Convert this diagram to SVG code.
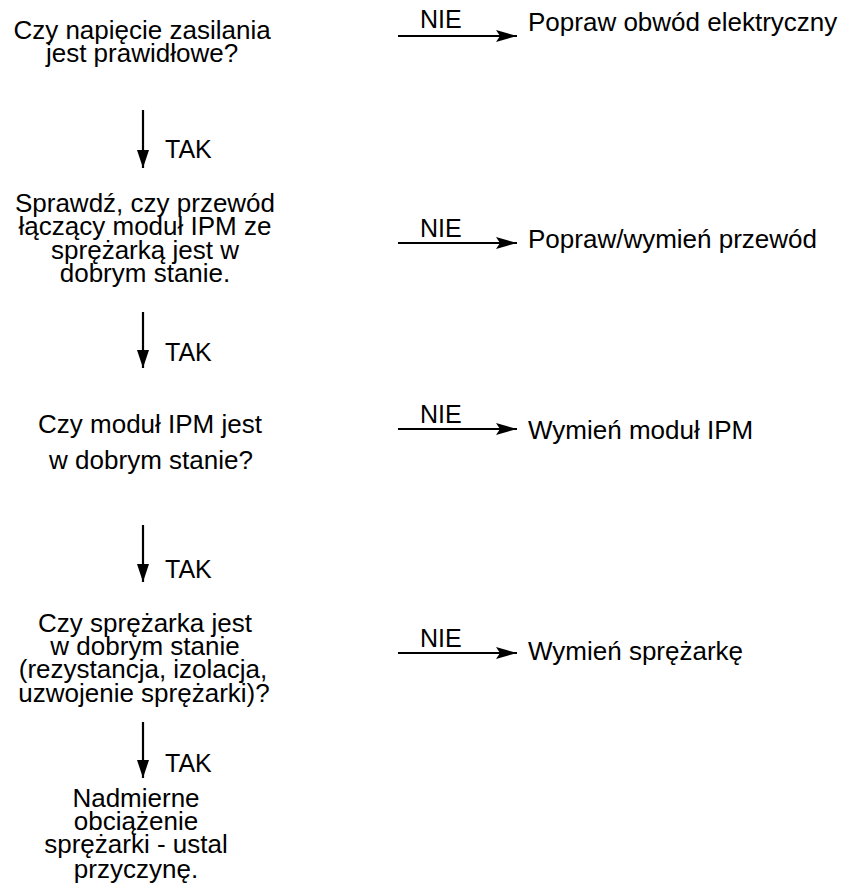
<svg xmlns="http://www.w3.org/2000/svg" width="851" height="892" viewBox="0 0 851 892">
  <defs>
    <style>
      .t { font-family: "Liberation Sans", Arial, sans-serif; font-size: 26px; fill: #000; }
      .c { text-anchor: middle; }
      .lbl { font-family: "Liberation Sans", Arial, sans-serif; font-size: 25px; fill: #000; }
      .ln { stroke: #000; stroke-width: 2.2; fill: none; }
    </style>
    <marker id="ah" markerUnits="userSpaceOnUse" markerWidth="22" markerHeight="14" refX="21" refY="7" orient="auto">
      <path d="M0,1 L21,7 L0,13 L4,7 Z" fill="#000"/>
    </marker>
    <marker id="av" markerUnits="userSpaceOnUse" markerWidth="18" markerHeight="14" refX="18" refY="7" orient="auto">
      <path d="M0,1 L18,7 L0,13 Z" fill="#000"/>
    </marker>
  </defs>
  <rect width="851" height="892" fill="#fff"/>

  <!-- decision steps -->
  <g id="q-voltage" class="t c">
    <text x="142" y="39">Czy napięcie zasilania</text>
    <text x="142" y="62">jest prawidłowe?</text>
  </g>
  <g id="q-cable" class="t c">
    <text x="145" y="212">Sprawdź, czy przewód</text>
    <text x="145" y="235">łączący moduł IPM ze</text>
    <text x="145" y="259">sprężarką jest w</text>
    <text x="145" y="282">dobrym stanie.</text>
  </g>
  <g id="q-ipm" class="t c">
    <text x="150" y="433">Czy moduł IPM jest</text>
    <text x="151" y="469">w dobrym stanie?</text>
  </g>
  <g id="q-compressor" class="t c">
    <text x="145" y="632">Czy sprężarka jest</text>
    <text x="145" y="655">w dobrym stanie</text>
    <text x="143" y="678">(rezystancja, izolacja,</text>
    <text x="144" y="702">uzwojenie sprężarki)?</text>
  </g>
  <g id="r-overload" class="t c">
    <text x="136" y="807">Nadmierne</text>
    <text x="136" y="830">obciążenie</text>
    <text x="136" y="853">sprężarki - ustal</text>
    <text x="136" y="878">przyczynę.</text>
  </g>

  <!-- remedies -->
  <g id="r-circuit" class="t"><text x="528" y="31">Popraw obwód elektryczny</text></g>
  <g id="r-cable" class="t"><text x="528" y="248">Popraw/wymień przewód</text></g>
  <g id="r-ipm" class="t"><text x="528" y="439">Wymień moduł IPM</text></g>
  <g id="r-compressor" class="t"><text x="528" y="660">Wymień sprężarkę</text></g>

  <!-- connectors -->
  <g id="connectors">
    <line class="ln" x1="143" y1="110" x2="143" y2="168" marker-end="url(#av)"/>
    <line class="ln" x1="143" y1="312" x2="143" y2="368" marker-end="url(#av)"/>
    <line class="ln" x1="143" y1="525" x2="143" y2="582" marker-end="url(#av)"/>
    <line class="ln" x1="143" y1="722" x2="143" y2="778" marker-end="url(#av)"/>
    <text class="lbl" x="165" y="158">TAK</text>
    <text class="lbl" x="165" y="361">TAK</text>
    <text class="lbl" x="165" y="578">TAK</text>
    <text class="lbl" x="165" y="772">TAK</text>

    <line class="ln" x1="398" y1="36" x2="517" y2="36" marker-end="url(#ah)"/>
    <line class="ln" x1="398" y1="243" x2="517" y2="243" marker-end="url(#ah)"/>
    <line class="ln" x1="398" y1="429" x2="517" y2="429" marker-end="url(#ah)"/>
    <line class="ln" x1="398" y1="653" x2="517" y2="653" marker-end="url(#ah)"/>
    <text class="lbl" x="420" y="28">NIE</text>
    <text class="lbl" x="420" y="237">NIE</text>
    <text class="lbl" x="420" y="423">NIE</text>
    <text class="lbl" x="420" y="647">NIE</text>
  </g>
</svg>
